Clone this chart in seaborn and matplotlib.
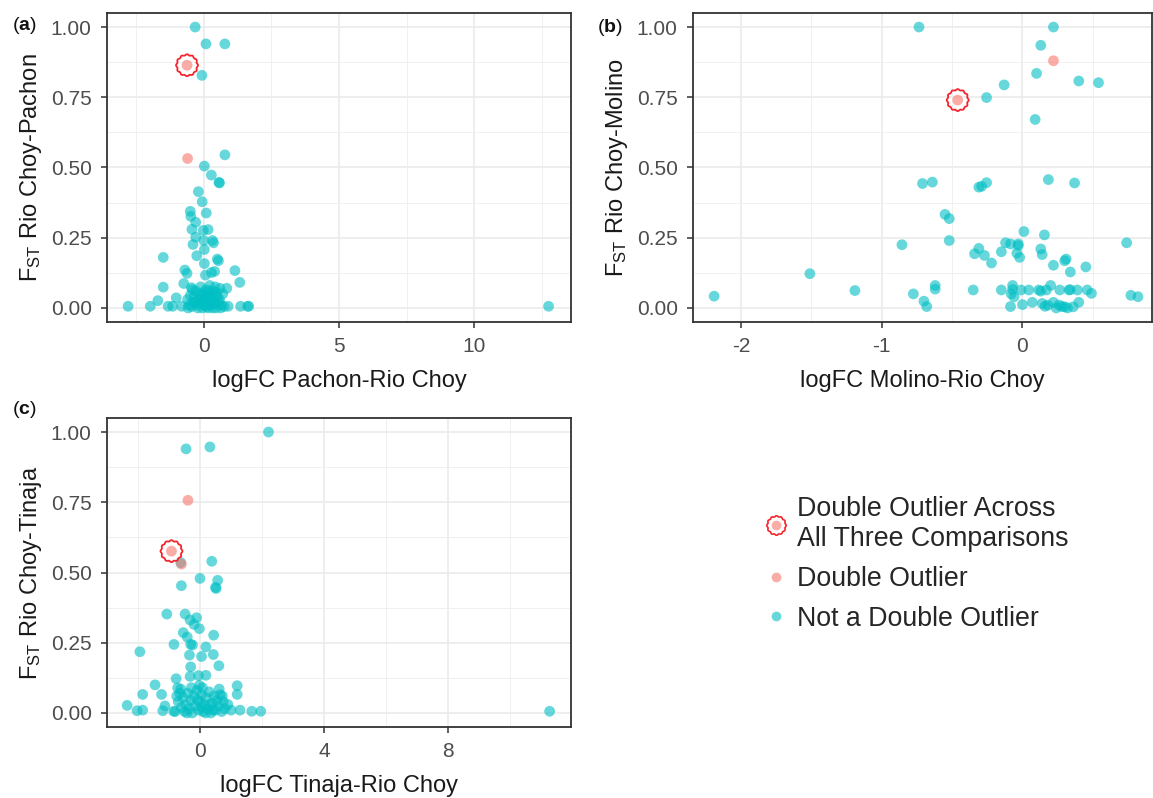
import numpy as np
import pandas as pd
import matplotlib
matplotlib.use("Agg")
import matplotlib.pyplot as plt
from matplotlib.path import Path
from matplotlib.lines import Line2D
from matplotlib.ticker import MultipleLocator, FormatStrFormatter
import seaborn as sns

# ---- data ----
# panel (a): logFC Pachon-Rio Choy vs FST Rio Choy-Pachon
a_not_x = [-0.32, 0.08, 0.78, -0.07, 0.78, 0.02, 0.28, 0.56, 0.58, -0.20,
           -0.06, 0.09, -0.50, -0.48, -0.30, -0.44, -0.02, 0.16, -0.30, -0.40,
           0.00, 0.32, 0.36, 0.02, -0.26, -1.50, 0.50, 0.54, 0.02, 0.40,
           0.28, 1.15, -0.70, -0.62, 0.06, 1.33, -0.74, -1.50, -0.46, -1.02,
           -1.70, -2.80, -1.98, -1.32, -1.15, -0.82, 0.90, 1.36, 1.62, 1.66,
           12.75,
           -0.55, -0.45, -0.40, -0.35, -0.30, -0.25, -0.20, -0.15, -0.10, -0.05,
           0.00, 0.05, 0.10, 0.15, 0.20, 0.25, 0.30, 0.35, 0.40, 0.45,
           0.50, 0.55, 0.60, 0.65, 0.70, 0.75, -0.50, -0.42, -0.12, 0.08,
           0.22, 0.42, -0.02, 0.12, 0.32, -0.22, 0.58, -0.08, 0.18, 0.48,
           0.28, -0.32, 0.02, 0.38, -0.60, 0.85, -0.58, 0.15, 0.62]
a_not_y = [1.00, 0.94, 0.94, 0.828, 0.545, 0.505, 0.473, 0.447, 0.445, 0.414,
           0.378, 0.338, 0.344, 0.326, 0.305, 0.280, 0.276, 0.279, 0.252, 0.226,
           0.240, 0.240, 0.232, 0.208, 0.186, 0.180, 0.174, 0.168, 0.158, 0.130,
           0.126, 0.133, 0.135, 0.123, 0.117, 0.091, 0.087, 0.074, 0.072, 0.036,
           0.026, 0.006, 0.006, 0.006, 0.006, 0.006, 0.006, 0.006, 0.006, 0.006,
           0.006,
           0.010, 0.005, 0.020, 0.040, 0.060, 0.010, 0.030, 0.050, 0.020, 0.000,
           0.010, 0.035, 0.005, 0.020, 0.045, 0.010, 0.030, 0.060, 0.015, 0.000,
           0.040, 0.020, 0.070, 0.010, 0.050, 0.005, 0.045, 0.065, 0.075, 0.065,
           0.080, 0.075, 0.055, 0.045, 0.000, 0.000, 0.030, 0.040, 0.060, 0.055,
           0.050, 0.020, 0.025, 0.035, 0.030, 0.070, 0.000, 0.000, 0.000]
a_dbl_x = [-0.60, -0.62]
a_dbl_y = [0.532, 0.864]
a_all_x = [-0.62]
a_all_y = [0.864]

# panel (b): logFC Molino-Rio Choy vs FST Rio Choy-Molino
b_not_x = [-0.735, 0.22, 0.13, 0.10, 0.40, 0.54, -0.13, -0.255, 0.09,
           -0.71, -0.64, -0.31, -0.29, -0.255, 0.184, 0.37,
           -0.55, -0.52, -0.52, -0.856, 0.01, 0.156, 0.74,
           -0.12, -0.085, -0.03, -0.03, -0.31, -0.34, -0.27, -0.15, -0.22, -0.04,
           -0.02, 0.13, 0.14, 0.22, 0.30, 0.31, 0.34, 0.45,
           -2.19, -1.51, -1.19, -0.775, -0.70, -0.68, -0.62, -0.62, -0.35, -0.15,
           -0.07, -0.07, -0.08, -0.06, -0.01, 0.045, 0.116, 0.13, 0.20, 0.17,
           0.265, 0.33, 0.34, 0.39, 0.46, 0.49, 0.77, 0.82,
           -0.085, 0.00, 0.07, 0.14, 0.16, 0.22, 0.26, 0.28, 0.30, 0.36,
           0.40, 0.18, 0.24, 0.32]
b_not_y = [1.00, 1.00, 0.935, 0.835, 0.808, 0.802, 0.794, 0.749, 0.671,
           0.443, 0.448, 0.430, 0.433, 0.446, 0.457, 0.445,
           0.333, 0.318, 0.240, 0.225, 0.272, 0.260, 0.232,
           0.232, 0.228, 0.228, 0.222, 0.212, 0.193, 0.187, 0.200, 0.160, 0.195,
           0.180, 0.210, 0.190, 0.152, 0.168, 0.174, 0.128, 0.146,
           0.042, 0.122, 0.062, 0.050, 0.024, 0.005, 0.080, 0.067, 0.064, 0.064,
           0.080, 0.066, 0.050, 0.040, 0.064, 0.064, 0.064, 0.060, 0.080, 0.064,
           0.064, 0.064, 0.065, 0.064, 0.064, 0.052, 0.045, 0.040,
           0.005, 0.012, 0.020, 0.016, 0.006, 0.020, 0.010, 0.005, 0.004, 0.004,
           0.020, 0.010, 0.000, 0.000]
b_dbl_x = [0.22, -0.46]
b_dbl_y = [0.88, 0.74]
b_all_x = [-0.46]
b_all_y = [0.74]

# panel (c): logFC Tinaja-Rio Choy vs FST Rio Choy-Tinaja
c_not_x = [2.21, -0.45, 0.32, 0.38, 0.00, 0.57, 0.50, 0.52, -0.60, -0.62,
           -1.07, -0.48, -0.32, -0.11, -0.19, -0.02, -0.54, -0.41, 0.44, -0.84,
           -0.30, -0.24, 0.19, -1.94, -0.34, 0.05, 0.43, 0.61, -0.30, -0.32,
           -0.05, 0.19, -0.77, -1.45, -1.85, -1.24, 1.20, 1.20, -0.72, -0.02,
           -2.35, -2.03, -1.85, -1.20, -1.13, -0.85, 1.29, 1.67, 1.96, 11.28,
           -0.80, -0.70, -0.65, -0.60, -0.55, -0.50, -0.45, -0.40, -0.35, -0.30,
           -0.25, -0.20, -0.15, -0.10, -0.05, 0.00, 0.05, 0.10, 0.15, 0.20,
           0.25, 0.30, 0.35, 0.40, 0.45, 0.50, 0.55, 0.60, 0.65, 0.70,
           0.75, 0.80, 0.90, 1.00, -0.75, -0.62, 0.08, 0.62, -0.28, 0.32,
           -0.08, 0.18, 0.42, -0.42, 0.72, 0.05]
c_not_y = [1.00, 0.940, 0.947, 0.540, 0.479, 0.472, 0.447, 0.443, 0.453, 0.535,
           0.352, 0.352, 0.331, 0.339, 0.315, 0.300, 0.286, 0.270, 0.277, 0.244,
           0.244, 0.242, 0.235, 0.218, 0.206, 0.201, 0.208, 0.168, 0.164, 0.130,
           0.133, 0.134, 0.122, 0.100, 0.066, 0.066, 0.097, 0.066, 0.089, 0.098,
           0.027, 0.008, 0.010, 0.008, 0.025, 0.006, 0.010, 0.006, 0.006, 0.006,
           0.005, 0.040, 0.070, 0.020, 0.055, 0.005, 0.030, 0.070, 0.015, 0.045,
           0.000, 0.060, 0.025, 0.080, 0.010, 0.040, 0.065, 0.005, 0.030, 0.055,
           0.015, 0.075, 0.000, 0.035, 0.060, 0.010, 0.045, 0.025, 0.065, 0.005,
           0.040, 0.015, 0.030, 0.010, 0.060, 0.085, 0.090, 0.085, 0.090, 0.030,
           0.045, 0.000, 0.010, 0.000, 0.060, 0.020]
c_dbl_x = [-0.39, -0.60, -0.92]
c_dbl_y = [0.757, 0.530, 0.576]
c_all_x = [-0.92]
c_all_y = [0.576]

LABELS = ["Double Outlier Across\nAll Three Comparisons", "Double Outlier",
          "Not a Double Outlier"]
CYAN = "#00BFC4"
SALMON = "#F8766D"
RING = "#F5232B"
GRID = "#EBEBEB"
DARK = "#333333"

sns.set_style("white")
plt.rcParams["font.family"] = ["Liberation Sans", "DejaVu Sans"]
plt.rcParams["mathtext.fontset"] = "custom"
plt.rcParams["mathtext.rm"] = "Liberation Sans"
plt.rcParams["mathtext.it"] = "Liberation Sans:italic"
plt.rcParams["mathtext.bf"] = "Liberation Sans:bold"


def scallop_marker(n=12, depth=0.05):
    # wavy circle used for the "all three comparisons" ring
    t = np.linspace(0, 2 * np.pi, 240)
    r = 1 + depth * np.cos(n * t)
    verts = np.column_stack([r * np.cos(t), r * np.sin(t)])
    return Path(verts, closed=True)


RING_MARKER = scallop_marker()


def panel(ax, nx, ny, dx, dy, rx, ry, xlim, xmajor, xlabel, ylabel):
    df = pd.DataFrame({
        "x": list(nx) + list(dx),
        "y": list(ny) + list(dy),
        "status": [LABELS[2]] * len(nx) + [LABELS[1]] * len(dx),
    })
    sns.scatterplot(data=df, x="x", y="y", hue="status",
                    palette={LABELS[2]: CYAN, LABELS[1]: SALMON},
                    alpha=0.6, s=60, edgecolor="none", legend=False,
                    ax=ax, zorder=3)
    ring = pd.DataFrame({"x": rx, "y": ry})
    sns.scatterplot(data=ring, x="x", y="y", marker=RING_MARKER, s=250,
                    facecolor="none", edgecolor=RING, linewidth=1.3,
                    legend=False, ax=ax, zorder=4)

    ax.set_xlim(*xlim)
    ax.set_ylim(-0.05, 1.05)
    ax.xaxis.set_major_locator(MultipleLocator(xmajor))
    ax.xaxis.set_minor_locator(MultipleLocator(xmajor / 2))
    ax.yaxis.set_major_locator(MultipleLocator(0.25))
    ax.yaxis.set_minor_locator(MultipleLocator(0.125))
    ax.yaxis.set_major_formatter(FormatStrFormatter("%.2f"))
    ax.xaxis.set_major_formatter(FormatStrFormatter("%g"))
    ax.grid(which="major", color=GRID, linewidth=1.2, zorder=0)
    ax.grid(which="minor", color="#F0F0F0", linewidth=0.7, zorder=0)
    ax.set_axisbelow(True)
    for sp in ax.spines.values():
        sp.set_color(DARK)
        sp.set_linewidth(1.3)
    ax.tick_params(which="major", direction="out", length=4.5, width=1.1,
                   color=DARK, labelsize=15, labelcolor="#4D4D4D", pad=6.5,
                   bottom=True, left=True)
    ax.tick_params(which="minor", length=0)
    ax.set_xlabel(xlabel, fontsize=17, color="#1A1A1A", labelpad=10)
    ax.set_ylabel(ylabel, fontsize=17, color="#1A1A1A", labelpad=5)


W, H = 1153, 798
fig = plt.figure(figsize=(W / 100, H / 100), dpi=100)


def box(l, r, t, b):
    return [l / W, 1 - b / H, (r - l) / W, (b - t) / H]


ax_a = fig.add_axes(box(107, 571, 13, 322))
ax_b = fig.add_axes(box(693, 1152, 13, 322))
ax_c = fig.add_axes(box(107, 571, 418, 727))

panel(ax_a, a_not_x, a_not_y, a_dbl_x, a_dbl_y, a_all_x, a_all_y,
      (-3.58, 13.58), 5, "logFC Pachon-Rio Choy",
      r"$\mathrm{F_{ST}}$ Rio Choy-Pachon")
panel(ax_b, b_not_x, b_not_y, b_dbl_x, b_dbl_y, b_all_x, b_all_y,
      (-2.34, 0.92), 1, "logFC Molino-Rio Choy",
      r"$\mathrm{F_{ST}}$ Rio Choy-Molino")
panel(ax_c, c_not_x, c_not_y, c_dbl_x, c_dbl_y, c_all_x, c_all_y,
      (-3.0, 11.97), 4, "logFC Tinaja-Rio Choy",
      r"$\mathrm{F_{ST}}$ Rio Choy-Tinaja")

# panel tags
for tag, px, py in [("a", 12, 25), ("b", 597, 27), ("c", 12, 410)]:
    fig.text(px / W, 1 - py / H, "($\\mathbf{%s}$)" % tag, fontsize=14,
             ha="left", va="center", color="#111111")

# legend: ring is drawn over a salmon dot, like in the panels
ring_dot = Line2D([], [], linestyle="none", marker="o", markersize=7,
                  markerfacecolor=SALMON, markeredgecolor="none", alpha=0.6)
ring_edge = Line2D([], [], linestyle="none", marker=RING_MARKER, markersize=14,
                   markerfacecolor="none", markeredgecolor=RING,
                   markeredgewidth=1.2)
handles = [
    (ring_dot, ring_edge),
    Line2D([], [], linestyle="none", marker="o", markersize=7,
           markerfacecolor=SALMON, markeredgecolor="none", alpha=0.6),
    Line2D([], [], linestyle="none", marker="o", markersize=7,
           markerfacecolor=CYAN, markeredgecolor="none", alpha=0.6),
]
fig.legend(handles, LABELS, loc="upper left",
           bbox_to_anchor=(763 / W, 1 - 496 / H), frameon=False, fontsize=19.3,
           handlelength=1.0, handletextpad=0.27, labelspacing=0.52,
           borderaxespad=0, borderpad=0)

fig.savefig("out.png", dpi=100)
